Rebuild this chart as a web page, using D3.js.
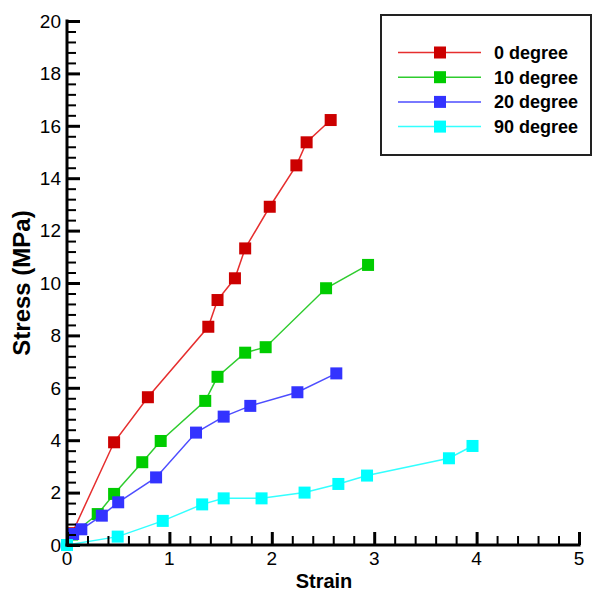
<!DOCTYPE html>
<html>
<head>
<meta charset="utf-8">
<script src="https://cdn.jsdelivr.net/npm/d3@7"></script>
<style>
  html, body { margin: 0; padding: 0; background: #fff; }
  svg { display: block; }
  text { font-family: "Liberation Sans", Arial, Helvetica, sans-serif; }
</style>
</head>
<body>
<svg id="chart" width="594" height="592"></svg>
<script>
// ---- data ----
const seriesNames = ["0 degree", "10 degree", "20 degree", "90 degree"];

const strain0  = [0.05, 0.46, 0.79, 1.38, 1.47, 1.64, 1.74, 1.98, 2.24, 2.34, 2.575];
const stress0  = [0.45, 3.92, 5.64, 8.33, 9.35, 10.18, 11.32, 12.91, 14.49, 15.37, 16.22];

const strain10 = [0.05, 0.30, 0.46, 0.735, 0.915, 1.35, 1.47, 1.74, 1.94, 2.53, 2.94];
const stress10 = [0.40, 1.18, 1.95, 3.16, 3.97, 5.50, 6.42, 7.34, 7.55, 9.80, 10.69];

const strain20 = [0.06, 0.14, 0.34, 0.50, 0.87, 1.26, 1.53, 1.79, 2.25, 2.63];
const stress20 = [0.42, 0.60, 1.12, 1.63, 2.58, 4.29, 4.90, 5.31, 5.83, 6.55];

const strain90 = [0.0, 0.495, 0.935, 1.32, 1.53, 1.90, 2.32, 2.65, 2.93, 3.73, 3.96];
const stress90 = [0.0, 0.32, 0.92, 1.55, 1.78, 1.78, 2.00, 2.33, 2.65, 3.31, 3.78];

const xTicks = [0, 1, 2, 3, 4, 5];
const yTicks = [0, 2, 4, 6, 8, 10, 12, 14, 16, 18, 20];
const xMinorTicks = [0.2, 0.4, 0.6, 0.8, 1.2, 1.4, 1.6, 1.8, 2.2, 2.4, 2.6, 2.8, 3.2, 3.4, 3.6, 3.8, 4.2, 4.4, 4.6, 4.8];
const yMinorTicks = [0.4, 0.8, 1.2, 1.6, 2.4, 2.8, 3.2, 3.6, 4.4, 4.8, 5.2, 5.6, 6.4, 6.8, 7.2, 7.6,
  8.4, 8.8, 9.2, 9.6, 10.4, 10.8, 11.2, 11.6, 12.4, 12.8, 13.2, 13.6, 14.4, 14.8, 15.2, 15.6,
  16.4, 16.8, 17.2, 17.6, 18.4, 18.8, 19.2, 19.6];

// ---- styles ----
const lineColors   = ["#e62e2e", "#2ecc2e", "#4d4dff", "#33ffff"];
const markerColors = ["#cc0000", "#00cc00", "#3333ff", "#00ffff"];

const svg = d3.select("#chart");
svg.append("rect").attr("width", 594).attr("height", 592).attr("fill", "#fff");

const x = d3.scaleLinear().domain([0, 5]).range([67, 579]);
const y = d3.scaleLinear().domain([0, 20]).range([545, 21]);

const series = [
  { name: seriesNames[0], xs: strain0,  ys: stress0 },
  { name: seriesNames[1], xs: strain10, ys: stress10 },
  { name: seriesNames[2], xs: strain20, ys: stress20 },
  { name: seriesNames[3], xs: strain90, ys: stress90 }
].map((s, i) => ({ ...s, pts: s.xs.map((v, k) => [v, s.ys[k]]), line: lineColors[i], mark: markerColors[i] }));

// ---- data ----
const lineGen = d3.line().x(d => x(d[0])).y(d => y(d[1]));
const ms = 12;
series.forEach(s => {
  const g = svg.append("g");
  g.append("path").attr("d", lineGen(s.pts)).attr("fill", "none")
    .attr("stroke", s.line).attr("stroke-width", 1.5);
  g.selectAll("rect").data(s.pts).join("rect")
    .attr("x", d => x(d[0]) - ms / 2).attr("y", d => y(d[1]) - ms / 2)
    .attr("width", ms).attr("height", ms).attr("fill", s.mark);
});

// tick labels
svg.append("g").selectAll("text").data(yTicks).join("text")
  .attr("x", 61).attr("y", d => y(d)).attr("dy", "0.36em")
  .attr("text-anchor", "end").attr("font-size", 19).attr("fill", "#000")
  .text(d => d);
svg.append("g").selectAll("text").data(xTicks).join("text")
  .attr("x", d => x(d)).attr("y", 565)
  .attr("text-anchor", "middle").attr("font-size", 19).attr("fill", "#000")
  .text(d => d);

// axis titles
svg.append("text").attr("x", 324).attr("y", 588).attr("text-anchor", "middle")
  .attr("font-size", 20).attr("font-weight", "bold").attr("fill", "#000").text("Strain");
svg.append("text").attr("transform", "translate(30,283) rotate(-90)").attr("text-anchor", "middle")
  .attr("font-size", 24).attr("font-weight", "bold").attr("fill", "#000").text("Stress (MPa)");

// ---- legend ----
const lg = svg.append("g");
lg.append("rect").attr("x", 381).attr("y", 15).attr("width", 210).attr("height", 140)
  .attr("fill", "#fff").attr("stroke", "#222").attr("stroke-width", 2);
series.forEach((s, i) => {
  const ly = 52.5 + i * 24.7;
  lg.append("line").attr("x1", 398).attr("x2", 481).attr("y1", ly).attr("y2", ly)
    .attr("stroke", s.line).attr("stroke-width", 1.5);
  lg.append("rect").attr("x", 440 - ms / 2).attr("y", ly - ms / 2).attr("width", ms).attr("height", ms)
    .attr("fill", s.mark);
  lg.append("text").attr("x", 494).attr("y", ly).attr("dy", "0.36em")
    .attr("font-size", 18).attr("font-weight", "bold").attr("fill", "#000").text(s.name);
});

// ---- axes (drawn last, on top): inward-pointing major/minor ticks ----
const noLabel = () => "";
function styleAxis(g, w) {
  g.select(".domain").remove();
  g.selectAll(".tick text").remove();
  g.selectAll(".tick line").attr("stroke", "#000").attr("stroke-width", w);
}
svg.append("g").attr("transform", "translate(67,0)")
  .call(d3.axisRight(y).tickValues(yMinorTicks).tickSize(9).tickFormat(noLabel))
  .call(g => styleAxis(g, 2));
svg.append("g").attr("transform", "translate(67,0)")
  .call(d3.axisRight(y).tickValues(yTicks).tickSize(13).tickFormat(noLabel))
  .call(g => styleAxis(g, 3));
svg.append("g").attr("transform", "translate(0,545)")
  .call(d3.axisTop(x).tickValues(xMinorTicks).tickSize(9).tickFormat(noLabel))
  .call(g => styleAxis(g, 2));
svg.append("g").attr("transform", "translate(0,545)")
  .call(d3.axisTop(x).tickValues(xTicks).tickSize(13).tickFormat(noLabel))
  .call(g => styleAxis(g, 3));

// axis lines
const ax = svg.append("g").attr("stroke", "#000").attr("stroke-width", 3).attr("fill", "none");
ax.append("path").attr("d", `M67,${y(20) - 1.5}L67,546.5`);
ax.append("path").attr("d", `M65.5,545L${x(5) + 1.5},545`);
</script>
</body>
</html>
